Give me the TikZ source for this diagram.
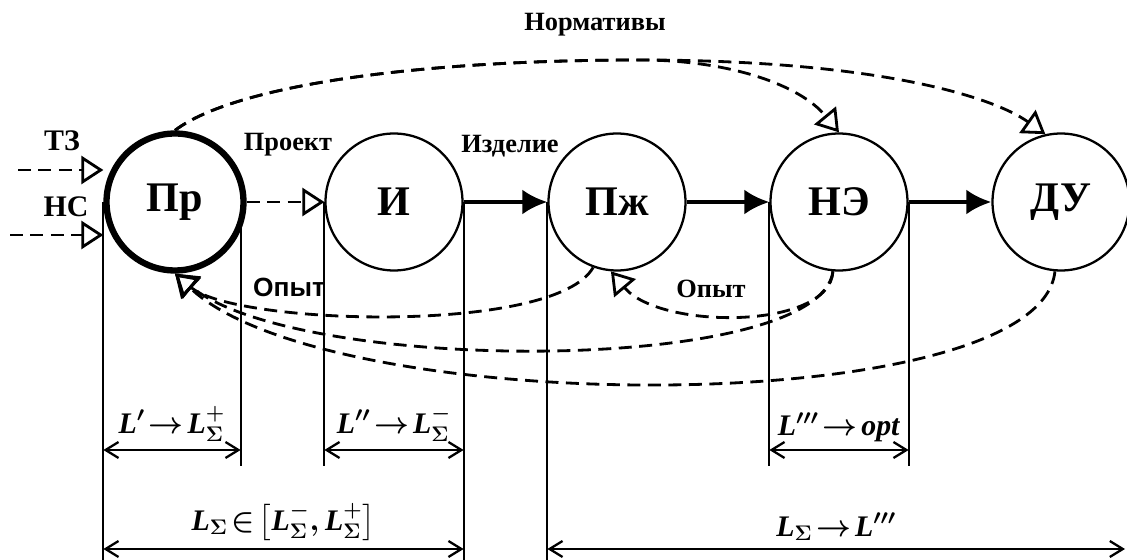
\documentclass[tikz,border=0pt]{standalone}
\usepackage{fontspec}
\setmainfont{Liberation Serif}
\newfontfamily\labelsans{Liberation Sans}
\usepackage{amsmath}
\usetikzlibrary{arrows.meta,calc,backgrounds}
\newcommand{\Lb}{\textbf{\textit{L}}}
\newcommand{\Sg}{\boldsymbol{\Sigma}}
\newcommand{\tightmath}{\thickmuskip=2mu\relax\medmuskip=2mu\relax}
\tikzset{
  stage/.style     ={draw, circle, fill=white, line width=1.3pt,
                     minimum size=2.74cm, inner sep=0pt,
                     font=\fontsize{24}{26}\selectfont\bfseries},
  mainstage/.style ={stage, line width=3.6pt},
  fwdarr/.style    ={-{Latex[length=5mm,width=5mm]}, line width=2.4pt},
  dasharr/.style   ={-{Triangle[open,length=4.4mm,width=5.6mm,line width=1.6pt]},
                     line width=1.6pt, dash pattern=on 2.6mm off 1.5mm},
  dimline/.style   ={line width=1.1pt},
  dimarr/.style    ={{Straight Barb[length=2.6mm,width=3.2mm]}-{Straight Barb[length=2.6mm,width=3.2mm]},
                     line width=1.3pt},
  lbl/.style       ={font=\fontsize{15}{17}\selectfont\bfseries, inner sep=1pt},
  dimlbl/.style    ={font=\fontsize{17}{19}\selectfont\boldmath,
                     inner sep=1pt, above=3pt},
}

\begin{document}
\begin{tikzpicture}[x=0.02cm,y=-0.02cm]
        \useasboundingbox (0,0) rectangle (1127,560);

        % stages
        \node[mainstage] (pr)  at (175,202)  {Пр};
        \node[stage]     (i)   at (394,202)  {И};
        \node[stage]     (pzh) at (617,202)  {Пж};
        \node[stage]     (ne)  at (839,202)  {НЭ};
        \node[stage]     (du)  at (1061,202) {ДУ};

        % labels
        \node[lbl,font=\fontsize{17}{19}\selectfont\bfseries] (tz) at (62,141) {ТЗ};
        \node[lbl,font=\fontsize{17}{19}\selectfont\bfseries] (ns) at (66,207) {НС};
        \node[lbl] (proj)  at (288,145) {Проект};
        \node[lbl] (izd)   at (510,146) {Изделие};
        \node[lbl] (norm)  at (595,25)  {Нормативы};
        \node[lbl,font=\fontsize{15}{17}\selectfont\labelsans\bfseries] (opyt1) at (289,287) {Опыт};
        \node[lbl] (opyt2) at (711,289) {Опыт};

        % reference levels
        \coordinate (tzin)  at (18,170);
        \coordinate (nsin)  at (10,235);
        \coordinate (prr)   at ($(pr.east)+(-6,0)$);
        \coordinate (up)    at (0,450);
        \coordinate (lo)    at (0,549);
        \coordinate (short) at (0,466);
        \coordinate (long)  at (0,560);
        \coordinate (rim)   at (1125,549);
        \coordinate (split) at (640,60);

        % extension lines
        \begin{scope}[on background layer]
          \draw[dimline] (pr.west)  -- (pr.west |- long);
          \draw[dimline] (prr)      -- (prr |- short);
          \draw[dimline] (i.west)   -- (i.west |- short);
          \draw[dimline] (i.east)   -- (i.east |- long);
          \draw[dimline] (pzh.west) -- (pzh.west |- long);
          \draw[dimline] (ne.west)  -- (ne.west |- short);
          \draw[dimline] (ne.east)  -- (ne.east |- short);
        \end{scope}

        % inputs
        \draw[dasharr] (tzin) -- (tzin -| pr.west);
        \draw[dasharr] (nsin) -- (nsin -| pr.west);

        % chain
        \draw[dasharr] (pr)  -- (i);
        \draw[fwdarr]  (i)   -- (pzh);
        \draw[fwdarr]  (pzh) -- (ne);
        \draw[fwdarr]  (ne)  -- (du);

        % norms
        \draw[dasharr] (pr.north) .. controls (235,85) and (420,60) .. (split)
                                  .. controls (730,60) and (800,85) .. (ne.north);
        \draw[dasharr] (pr.north) .. controls (235,85) and (420,60) .. (split)
                                  .. controls (870,60) and (990,95) .. (du.103);

        % experience
        \draw[dasharr] (ne.265)  .. controls (830,330) and (660,330) .. (pzh.265);
        \draw[dasharr] (pzh.250) .. controls (555,335) and (235,325) .. (pr.south);
        \draw[dasharr] (ne.265)  .. controls (820,375) and (300,375) .. (pr.south);
        \draw[dasharr] (du.265)  .. controls (1040,420) and (330,420) .. (pr.south);

        % dimensions
        \draw[dimarr] (pr.west |- up) -- node[dimlbl] {$\tightmath\Lb'\to \Lb_{\Sg}^{+}$} (prr |- up);
        \draw[dimarr] (i.west |- up)  -- node[dimlbl] {$\tightmath\Lb''\to \Lb_{\Sg}^{-}$} (i.east |- up);
        \draw[dimarr] (ne.west |- up) -- node[dimlbl] {$\tightmath\Lb'''\to \textbf{\textit{opt}}$} (ne.east |- up);
        \draw[dimarr] (pr.west |- lo) -- node[dimlbl] {$\tightmath\Lb_{\Sg}\in\left[\Lb_{\Sg}^{-},\Lb_{\Sg}^{+}\right]$} (i.east |- lo);
        \draw[dimarr] (pzh.west |- lo) -- node[dimlbl] {$\tightmath\Lb_{\Sg}\to \Lb'''$} (rim);
      \end{tikzpicture}
\end{document}
